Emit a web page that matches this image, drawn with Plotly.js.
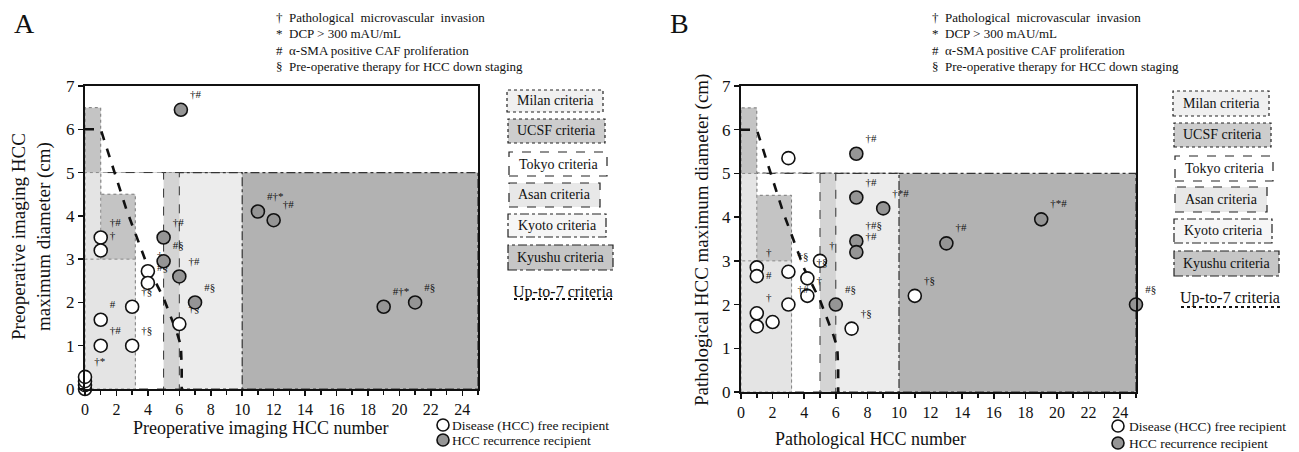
<!DOCTYPE html>
<html><head><meta charset="utf-8">
<script src="https://cdn.plot.ly/plotly-3.0.1.min.js"></script>
<style>body{margin:0;background:#fff}</style>
</head><body><div id="chart" style="width:1299px;height:452px"></div>
<script>
// ---------- Panel A : preoperative imaging ----------
const aFreeX = [0, 0, 0, 0, 1, 1, 1, 1, 3, 3, 4, 4, 6];
const aFreeY = [0.0, 0.09, 0.18, 0.28, 3.5, 3.2, 1.6, 1.0, 1.9, 1.0, 2.72, 2.45, 1.5];
const aFreeLbl = ['', '', '', '†*', '†#', '†', '#', '†#', '†§', '†§', '†', '#§', '†§'];
const aRecX = [6.1, 5, 5, 6, 7, 11, 12, 19, 21];
const aRecY = [6.45, 3.5, 2.95, 2.6, 2.0, 4.1, 3.9, 1.9, 2.0];
const aRecLbl = ['†#', '†#', '#§', '†#', '#§', '#†*', '†#', '#†*', '#§'];
// ---------- Panel B : pathological ----------
const bFreeX = [3, 1, 1, 1, 1, 2, 3, 3, 4.2, 4.2, 5, 7, 11];
const bFreeY = [5.35, 2.85, 2.65, 1.8, 1.5, 1.6, 2.75, 2.0, 2.6, 2.2, 3.0, 1.45, 2.2];
const bFreeLbl = ['', '†', '#', '†', '', '', '†§', '†#', '†§', '†', '†', '†§', '†§'];
const bRecX = [7.3, 7.3, 9, 7.3, 7.3, 6, 13, 19, 25];
const bRecY = [5.45, 4.45, 4.2, 3.45, 3.2, 2.0, 3.4, 3.95, 2.0];
const bRecLbl = ['†#', '†#', '†*#', '†#§', '†#', '#§', '†#', '†*#', '#§'];
// ---------- Criteria (max number of nodules, max diameter cm) ----------
const criteriaNames = ['Milan criteria', 'UCSF criteria', 'Tokyo criteria', 'Asan criteria', 'Kyoto criteria', 'Kyushu criteria', 'Up-to-7 criteria'];
const milanSingle = [1, 5], milanMulti = [3, 3];
const ucsfSingle = [1, 6.5], ucsfMulti = [3, 4.5];
const tokyoLim = [5, 5];
const asanLim = [6, 5];
const kyotoLim = [10, 5];
const kyushuLim = [25, 5];
const upTo7X = [0, 1, 2.65, 4.0, 5.0, 5.5, 5.85, 6.1, 6.15, 6.15];
const upTo7Y = [6, 6, 4.13, 2.82, 2.1, 1.65, 1.3, 1.0, 0.5, 0];
const notes = ['†  Pathological  microvascular  invasion', '*  DCP > 300 mAU/mL', '#  α-SMA positive CAF proliferation', '§  Pre-operative therapy for HCC down staging'];
const groupNames = ['Disease (HCC) free recipient', 'HCC recurrence recipient'];
const xTicks = [0, 2, 4, 6, 8, 10, 12, 14, 16, 18, 20, 22, 24];
const yTicks = [0, 1, 2, 3, 4, 5, 6, 7];

const W = 1299, H = 452;
const px = v => v / W, py = v => 1 - v / H;
const FONT = '"Liberation Serif", "Times New Roman", "DejaVu Serif", serif';
const cMilan = '#e4e4e4', cUcsf = '#c4c4c4', cAsan = '#d4d4d4', cKyoto = '#ececec', cKyushu = '#b2b2b2';
const cFree = '#ffffff', cRec = '#959595';

function regionShapes(xr, yr) {
  const s = [];
  const rect = (n, d, fill, dash, w, pad, col) => s.push({type: 'rect', xref: xr, yref: yr, x0: 0, y0: 0, x1: n + (pad || 0), y1: d,
    fillcolor: fill, line: {color: col || '#333', width: w || 1, dash: dash}, layer: 'below'});
  rect(kyushuLim[0], kyushuLim[1], cKyushu, 'dashdot', 1.2);
  rect(kyotoLim[0], kyotoLim[1], cKyoto, 'dashdot', 1.2);
  rect(asanLim[0], asanLim[1], cAsan, 'dash', 1);
  rect(tokyoLim[0], tokyoLim[1], '#ffffff', 'dash', 1);
  rect(ucsfSingle[0], ucsfSingle[1], cUcsf, 'dot', 1, 0, '#777');
  rect(ucsfMulti[0], ucsfMulti[1], cUcsf, 'dot', 1, 0.2, '#777');
  rect(milanSingle[0], milanSingle[1], cMilan, 'dot', 1, 0, '#888');
  rect(milanMulti[0], milanMulti[1], cMilan, 'dot', 1, 0.2, '#888');
  return s;
}

function legendBoxes(boxes, upto, grp) {
  const shapes = [], ann = [];
  boxes.forEach((b, i) => {
    shapes.push({type: 'rect', xref: 'paper', yref: 'paper', x0: px(b[0]), x1: px(b[1]), y0: py(b[3]), y1: py(b[2]),
      fillcolor: b[5], line: {color: '#222', width: 1.2, dash: b[4]}});
    ann.push({xref: 'paper', yref: 'paper', x: px((b[0] + b[1]) / 2), y: py((b[2] + b[3]) / 2), text: criteriaNames[i],
      showarrow: false, font: {family: FONT, size: 14, color: '#111'}, xanchor: 'center', yanchor: 'middle'});
  });
  ann.push({xref: 'paper', yref: 'paper', x: px(upto[0]), y: py(upto[1]), text: criteriaNames[6], showarrow: false,
    font: {family: FONT, size: 16, color: '#111'}, xanchor: 'center', yanchor: 'middle'});
  shapes.push({type: 'line', xref: 'paper', yref: 'paper', x0: px(upto[2]), x1: px(upto[3]), y0: py(upto[4]), y1: py(upto[4]),
    line: {color: '#111', width: 2, dash: 'dot'}});
  grp.rows.forEach((yy, i) => {
    const r = 6;
    shapes.push({type: 'circle', xref: 'paper', yref: 'paper', x0: px(grp.cx - r), x1: px(grp.cx + r), y0: py(yy + r), y1: py(yy - r),
      fillcolor: i === 0 ? cFree : cRec, line: {color: '#111', width: 1.6}});
    ann.push({xref: 'paper', yref: 'paper', x: px(grp.tx), y: py(yy), text: groupNames[i], showarrow: false,
      font: {family: FONT, size: 13.5, color: '#111'}, xanchor: 'left', yanchor: 'middle'});
  });
  return {shapes, ann};
}

const boxesA = [
  [507, 603, 90, 112, 'dot', '#f0f0f0'], [508, 605, 119, 143, 'dot', '#cdcdcd'], [509, 607, 152, 176, 'dash', '#ffffff'],
  [509, 600, 183, 207, 'dash', '#e8e8e8'], [508, 606, 214, 237, 'dashdot', '#f6f6f6'], [508, 613, 245, 270, 'dashdot', '#c6c6c6']];
const boxesB = [
  [1173, 1269, 91, 116, 'dot', '#f0f0f0'], [1174, 1271, 123, 147, 'dot', '#cdcdcd'], [1175, 1273, 156, 181, 'dash', '#ffffff'],
  [1175, 1267, 187, 212, 'dash', '#e8e8e8'], [1174, 1272, 219, 243, 'dashdot', '#f6f6f6'], [1174, 1279, 251, 276, 'dashdot', '#c6c6c6']];
const legA = legendBoxes(boxesA, [563, 292, 514, 612, 299], {cx: 443, tx: 450, rows: [425, 440]});
const legB = legendBoxes(boxesB, [1230, 298, 1181, 1280, 307], {cx: 1118, tx: 1127, rows: [426, 443]});

const freeMarker = {size: 13, color: cFree, line: {color: '#111', width: 1.6}};
const recMarker = {size: 13, color: cRec, line: {color: '#111', width: 1.6}};
const lblFont = {family: FONT, size: 11, color: '#111'};

function pts(name, x, y, t, xa, ya, mk, tp) {
  return {type: 'scatter', mode: 'markers+text', name, x, y, text: t, textposition: tp || 'top right', textfont: lblFont,
    marker: mk, xaxis: xa, yaxis: ya, showlegend: false, cliponaxis: false, hoverinfo: 'x+y'};
}
function line7(xa, ya) {
  return {type: 'scatter', mode: 'lines', name: criteriaNames[6], x: upTo7X, y: upTo7Y, xaxis: xa, yaxis: ya, showlegend: false,
    line: {color: '#111', width: 2.6, dash: 'dash'}, hoverinfo: 'skip', cliponaxis: false};
}
// label placement for panel B open circles (lower of the stacked pair sits to the right)
const bFreePos = bFreeLbl.map((_, i) => i === 2 ? 'middle right' : 'top right');

const data = [
  line7('x', 'y'),
  pts(groupNames[0], aFreeX, aFreeY, aFreeLbl, 'x', 'y', freeMarker),
  pts(groupNames[1], aRecX, aRecY, aRecLbl, 'x', 'y', recMarker),
  line7('x2', 'y2'),
  pts(groupNames[0], bFreeX, bFreeY, bFreeLbl, 'x2', 'y2', freeMarker, bFreePos),
  pts(groupNames[1], bRecX, bRecY, bRecLbl, 'x2', 'y2', recMarker)
];

const xax = dom => ({domain: dom, range: [0, 25], tickvals: xTicks, ticktext: xTicks.map(String), ticks: 'outside', ticklen: 5,
  tickwidth: 1.5, tickcolor: '#111', showline: true, linecolor: '#111', linewidth: 2, mirror: true, showgrid: false, zeroline: false,
  minor: {dtick: 1, tick0: 0, ticks: 'outside', ticklen: 4, tickcolor: '#111'},
  tickfont: {family: FONT, size: 16, color: '#111'}, fixedrange: true});
const yax = (dom, anchor) => ({domain: dom, anchor, range: [0, 7], tickvals: yTicks, ticks: 'outside', ticklen: 5, tickwidth: 1.5,
  tickcolor: '#111', showline: true, linecolor: '#111', linewidth: 2, mirror: true, showgrid: false, zeroline: false,
  tickfont: {family: FONT, size: 17, color: '#111'}, fixedrange: true});

const ann = [];
ann.push({xref: 'paper', yref: 'paper', x: px(12), y: py(23), text: 'A', showarrow: false, xanchor: 'left', yanchor: 'middle', font: {family: FONT, size: 28, color: '#111'}});
ann.push({xref: 'paper', yref: 'paper', x: px(668), y: py(23), text: 'B', showarrow: false, xanchor: 'left', yanchor: 'middle', font: {family: FONT, size: 28, color: '#111'}});
notes.forEach((n, i) => {
  ann.push({xref: 'paper', yref: 'paper', x: px(274), y: py(17 + i * 16.5), text: n, showarrow: false, xanchor: 'left', yanchor: 'middle', font: {family: FONT, size: 13, color: '#111'}});
  ann.push({xref: 'paper', yref: 'paper', x: px(930), y: py(17 + i * 16.5), text: n, showarrow: false, xanchor: 'left', yanchor: 'middle', font: {family: FONT, size: 13, color: '#111'}});
});
ann.push({xref: 'paper', yref: 'paper', x: px(260), y: py(428), text: 'Preoperative imaging HCC number', showarrow: false, xanchor: 'center', yanchor: 'middle', font: {family: FONT, size: 18, color: '#111'}});
ann.push({xref: 'paper', yref: 'paper', x: px(870), y: py(439), text: 'Pathological HCC number', showarrow: false, xanchor: 'center', yanchor: 'middle', font: {family: FONT, size: 18, color: '#111'}});
ann.push({xref: 'paper', yref: 'paper', x: px(31), y: py(237), text: 'Preoperative imaging HCC<br>maximum diameter (cm)', showarrow: false, textangle: -90, xanchor: 'center', yanchor: 'middle', font: {family: FONT, size: 19, color: '#111'}});
ann.push({xref: 'paper', yref: 'paper', x: px(702), y: py(240), text: 'Pathological HCC maximum diameter (cm)', showarrow: false, textangle: -90, xanchor: 'center', yanchor: 'middle', font: {family: FONT, size: 19, color: '#111'}});

const layout = {
  width: W, height: H, margin: {l: 0, r: 0, t: 0, b: 0}, paper_bgcolor: '#fff', plot_bgcolor: '#fff',
  xaxis: Object.assign(xax([px(85), px(478)]), {anchor: 'y'}),
  yaxis: yax([1 - 389 / H, 1 - 86 / H], 'x'),
  xaxis2: Object.assign(xax([px(741), px(1136)]), {anchor: 'y2'}),
  yaxis2: yax([1 - 392 / H, 1 - 86 / H], 'x2'),
  shapes: regionShapes('x', 'y').concat(regionShapes('x2', 'y2'), legA.shapes, legB.shapes),
  annotations: ann.concat(legA.ann, legB.ann),
  showlegend: false
};
Plotly.newPlot('chart', data, layout, {displayModeBar: false, staticPlot: true});
</script></body></html>
